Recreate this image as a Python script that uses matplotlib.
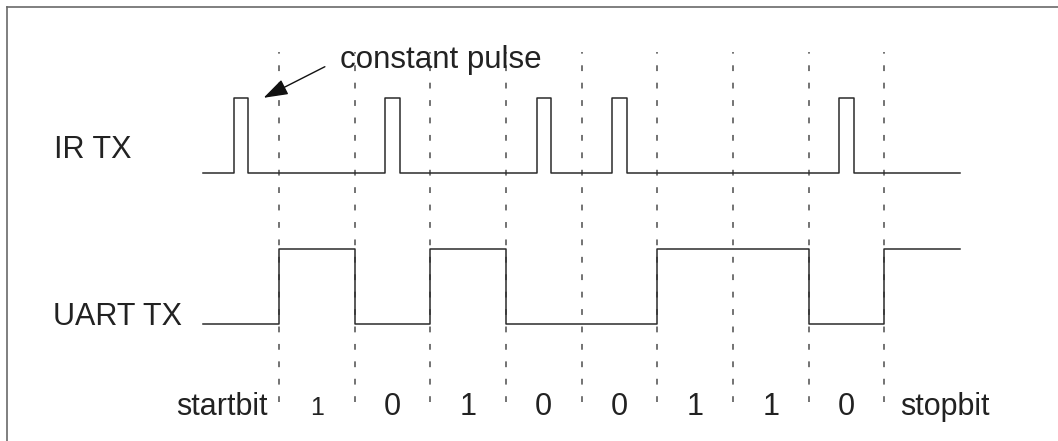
import numpy as np
import matplotlib
matplotlib.use("Agg")
import matplotlib.pyplot as plt

# --- data: one UART frame (start bit, 8 data bits, stop bit) ---
frame_bits = [0, 1, 0, 1, 0, 0, 1, 1, 0, 1]
bit_labels = ["startbit", "1", "0", "1", "0", "0", "1", "1", "0", "stopbit"]
pulse_width = 3 / 16          # IrDA pulse = 3/16 of a bit period
uart_low, uart_high = 1, 2    # signal levels of the two traces
ir_low, ir_high = 3, 4

plt.rcParams['font.family'] = ['Liberation Sans', 'DejaVu Sans']

fig = plt.figure(figsize=(10.58, 4.41), dpi=100)
ax = fig.add_axes([7 / 1058, 0, 1 - 7 / 1058, 1 - 7 / 441])
ax.set_xlim(-2.594, 11.296)
ax.set_ylim(-0.546, 5.203)
ax.set_xticks([])
ax.set_yticks([])
for s in ["right", "bottom"]:
    ax.spines[s].set_visible(False)
for s in ["left", "top"]:
    ax.spines[s].set_color("#6a6a6a")
    ax.spines[s].set_linewidth(1.2)

sig_col = "#2b2b2b"
txt_col = "#222222"
n = len(frame_bits)

# bit boundaries
for k in range(1, n):
    ax.plot([k, k], [-0.03, 4.61], color="#4d4d4d", lw=1.1,
            linestyle=(0, (3.8, 7.6)))

# UART TX trace
t = np.arange(n + 1)
lv = [uart_high if b else uart_low for b in frame_bits]
ax.step(t, lv + [lv[-1]], where="post", color=sig_col, lw=1.1)

# IR TX trace: a short pulse in the middle of every 0 bit
xs, ys = [0], [ir_low]
for k, b in enumerate(frame_bits):
    if b == 0:
        c = k + 0.5
        x0, x1 = c - pulse_width / 2, c + pulse_width / 2
        xs += [x0, x0, x1, x1]
        ys += [ir_low, ir_high, ir_high, ir_low]
xs.append(n)
ys.append(ir_low)
ax.plot(xs, ys, color=sig_col, lw=1.1)

# trace names
ax.text(-1.973, 3.199, "IR TX", fontsize=22, color=txt_col, va="baseline")
ax.text(-1.987, 0.99, "UART TX", fontsize=22, color=txt_col, va="baseline")

# bit labels under the traces
ax.text(0.855, -0.2, bit_labels[0], fontsize=22, color=txt_col,
        ha="right", va="baseline")
ax.text(9.207, -0.2, bit_labels[-1], fontsize=22, color=txt_col,
        ha="left", va="baseline")
for k in range(1, n - 1):
    fs = 18 if k == 1 else 22
    ax.text(k + 0.5, -0.2, bit_labels[k], fontsize=fs, color=txt_col,
            ha="center", va="baseline")

# annotation
ax.annotate("", xy=(0.797, 4.0), xytext=(1.607, 4.412),
            arrowprops=dict(arrowstyle="-|>,head_length=1.5,head_width=0.5",
                            color="#111111", lw=1.0, shrinkA=0, shrinkB=0))
ax.text(1.807, 4.391, "constant pulse", fontsize=22.5, color=txt_col,
        va="baseline")

fig.savefig("out.png", dpi=100)
